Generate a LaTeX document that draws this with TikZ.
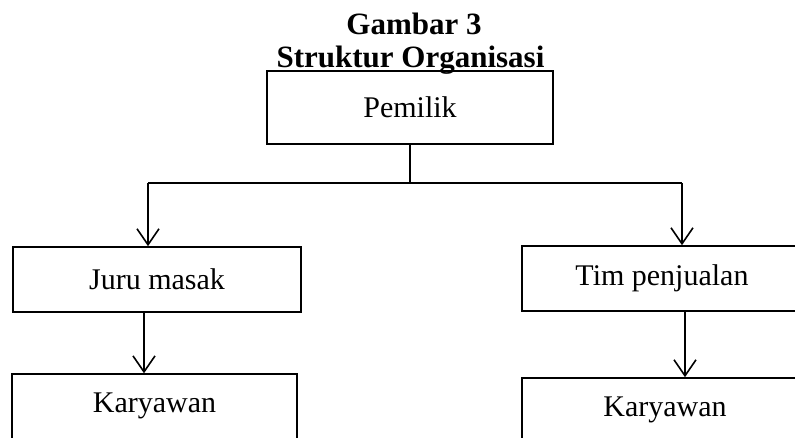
\documentclass[tikz,border=0pt]{standalone}
\usepackage{fontspec}
\setmainfont{Liberation Serif}
\usetikzlibrary{arrows.meta}
\begin{document}
\begin{tikzpicture}[x=1pt,y=-1pt,
  orgbox/.style={draw,line width=1.6pt,rectangle,inner sep=0pt,
    font=\fontsize{30}{34}\selectfont},
  link/.style={line width=1.6pt},
  arrowlink/.style={link,-{Straight Barb[length=16pt,width=22pt,line width=1.6pt]}},
  heading/.style={font=\fontsize{31}{34}\bfseries\selectfont,inner sep=0pt}]
  \useasboundingbox (0,0) rectangle (795,438);
  \clip (0,0) rectangle (795,438);

  % heading
  \node[heading,anchor=base] (t1) at (414,35) {Gambar 3};
  \node[heading,anchor=base] (t2) at (410.5,68) {Struktur Organisasi};

  % boxes
  \node[orgbox,minimum width=286pt,minimum height=73pt] (owner) at (410,107.5) {Pemilik};
  \node[orgbox,minimum width=288pt,minimum height=65pt] (cook) at (157,279.5) {Juru masak};
  \node[orgbox,minimum width=280pt,minimum height=65pt] (sales) at (662,278.5) {Tim penjualan};
  \node[orgbox,minimum width=285pt,minimum height=64.4pt] (staffL) at (154.5,406.3) {Karyawan};
  \node[orgbox,minimum width=286pt,minimum height=64pt] (staffR) at (665,410) {Karyawan};

  % branching connectors
  \coordinate (split) at (owner.south |- 0,183);
  \coordinate (splitL) at (148,183);
  \coordinate (splitR) at (682,183);
  \draw[link] (owner.south) -- (split);
  \draw[link] (splitL) -- (splitR);
  \draw[arrowlink] (splitL) -- (splitL |- cook.north);
  \draw[arrowlink] (splitR) -- (splitR |- sales.north);

  % lower connectors
  \coordinate (cookOut) at (144,0);
  \coordinate (salesOut) at (685,0);
  \draw[arrowlink] (cookOut |- cook.south) -- (cookOut |- staffL.north);
  \draw[arrowlink] (salesOut |- sales.south) -- (salesOut |- staffR.north);
\end{tikzpicture}
\end{document}
